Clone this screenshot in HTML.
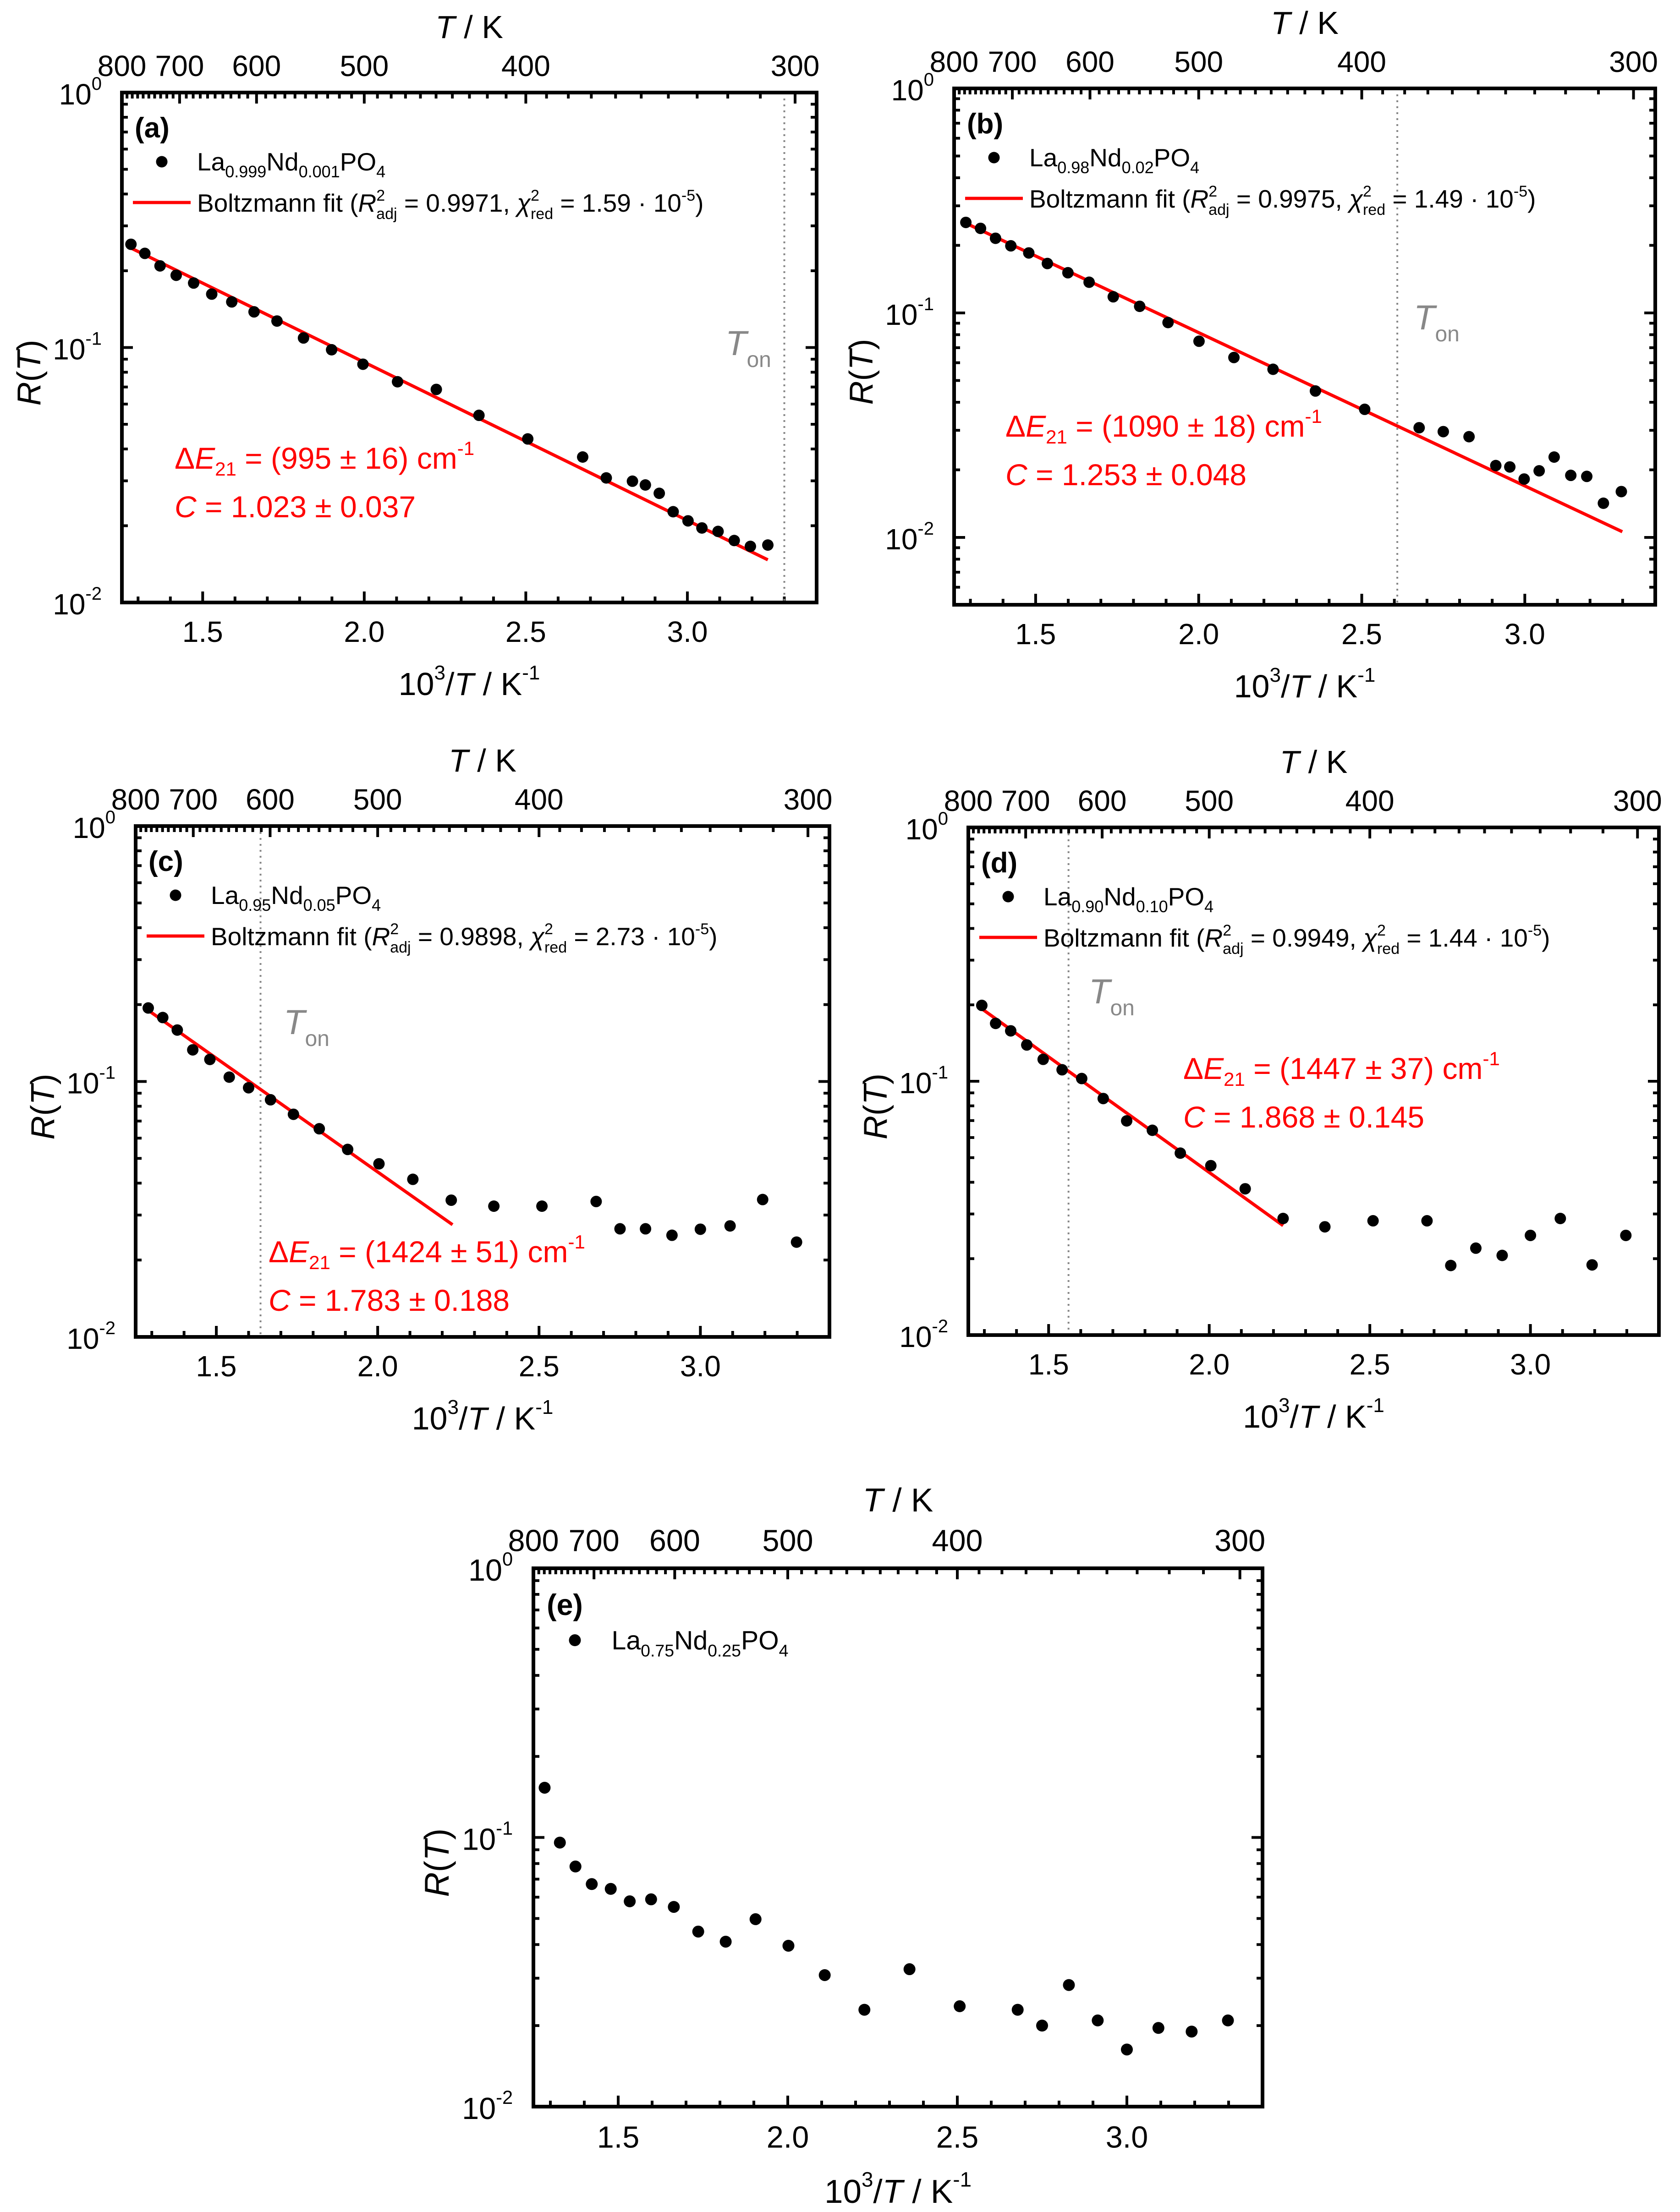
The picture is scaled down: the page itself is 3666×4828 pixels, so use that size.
<!DOCTYPE html>
<html><head><meta charset="utf-8"><style>
html,body{margin:0;padding:0;background:#fff;}
svg{display:block;font-family:"Liberation Sans",Arial,sans-serif;}
</style></head><body>
<svg id="fig" width="3666" height="4828" viewBox="0 0 3666 4828" xmlns="http://www.w3.org/2000/svg"></svg>
<script>
// ---------- data ----------
const xA=[1.278,1.321,1.368,1.418,1.472,1.528,1.590,1.659,1.730,1.812,1.899,1.996,2.103,2.223,2.355,2.506,2.676,2.749,2.830,2.870,2.913,2.956,3.002,3.045,3.095,3.145,3.195,3.249];
const yA=[0.254,0.234,0.209,0.192,0.179,0.162,0.151,0.138,0.127,0.109,0.098,0.086,0.0734,0.0685,0.0542,0.0438,0.0372,0.0308,0.0299,0.0289,0.0268,0.0227,0.0209,0.0196,0.0190,0.0175,0.0166,0.0168];
const fitXA=[1.278,3.249];
const fitYA=[0.2456,0.0147];
const tonA=3.30;

const xB=[1.286,1.331,1.377,1.424,1.479,1.536,1.599,1.664,1.738,1.819,1.906,2.001,2.108,2.228,2.358,2.509,2.676,2.750,2.829,2.911,2.954,2.998,3.044,3.090,3.141,3.190,3.241,3.296];
const yB=[0.253,0.238,0.215,0.199,0.185,0.166,0.151,0.137,0.118,0.107,0.0906,0.0748,0.0633,0.0561,0.0449,0.0372,0.0308,0.0296,0.0281,0.0209,0.0206,0.0182,0.0198,0.0228,0.0189,0.0187,0.0142,0.0160];
const fitXB=[1.286,3.299];
const fitYB=[0.251,0.0106];
const tonB=2.609;

const xC=[1.289,1.334,1.379,1.427,1.480,1.540,1.600,1.668,1.739,1.819,1.907,2.004,2.109,2.228,2.360,2.509,2.677,2.751,2.830,2.912,3.000,3.092,3.193,3.298];
const yC=[0.194,0.178,0.159,0.133,0.122,0.104,0.0945,0.0848,0.0744,0.0653,0.0542,0.0476,0.0414,0.0343,0.0325,0.0325,0.0339,0.0265,0.0265,0.0250,0.0264,0.0272,0.0345,0.0235];
const fitXC=[1.289,2.232];
const fitYC=[0.190,0.0275];
const tonC=1.637;

const xD=[1.292,1.335,1.382,1.432,1.483,1.542,1.603,1.670,1.743,1.823,1.910,2.005,2.112,2.230,2.360,2.510,2.678,2.752,2.830,2.912,3.000,3.093,3.192,3.297];
const yD=[0.199,0.169,0.158,0.139,0.122,0.111,0.1025,0.0855,0.0698,0.0641,0.0521,0.0465,0.0377,0.0288,0.0267,0.0282,0.0282,0.0188,0.0220,0.0206,0.0247,0.0288,0.0189,0.0247];
const fitXD=[1.292,2.230];
const fitYD=[0.193,0.0270];
const tonD=1.562;

const xE=[1.283,1.328,1.374,1.422,1.478,1.534,1.597,1.664,1.736,1.817,1.905,2.002,2.109,2.226,2.359,2.507,2.678,2.750,2.829,2.914,3.000,3.093,3.191,3.298];
const yE=[0.153,0.0957,0.0780,0.0671,0.0644,0.0579,0.0589,0.0552,0.0447,0.0410,0.0497,0.0396,0.0308,0.0229,0.0324,0.0236,0.0229,0.0200,0.0283,0.0209,0.0163,0.0196,0.0190,0.0209];

const bottomTicks=["1.5","2.0","2.5","3.0"];
const topTickLabels=["800","700","600","500","400","300"];
const yTickExp=["0","-1","-2"];

// ---------- helpers ----------
const NS="http://www.w3.org/2000/svg";
const svg=document.getElementById('fig');
function mk(tag,attrs,parent){const e=document.createElementNS(NS,tag);for(const k in attrs)e.setAttribute(k,attrs[k]);(parent||svg).appendChild(e);return e;}

function drawPanel(p){
  const g=mk('g',{});
  
  
  const X0=1.25,X1=3.4;
  const sx=v=>p.l+(v-X0)/(X1-X0)*(p.r-p.l);
  const sy=v=>p.t+(p.ymax-Math.log10(v))/(p.ymax-p.ymin)*(p.b-p.t);
  const syl=l=>p.t+(p.ymax-l)/(p.ymax-p.ymin)*(p.b-p.t);
  const fs=p.s;
  const tk=mk('g',{stroke:'#000','stroke-width':6},g);
  
  
  for(let i=13;i<=34;i++){const v=i/10;const x=sx(v);const maj=(i%5===0);const L=maj?24:13;
    mk('line',{x1:x,y1:p.b,x2:x,y2:p.b-L},tk);}
  for(let T=800;T>=300;T-=10){const v=1000/T;if(v<X0-1e-6||v>X1)continue;const x=sx(v);const maj=(T%100===0);const L=maj?24:13;
    mk('line',{x1:x,y1:p.t,x2:x,y2:p.t+L},tk);}
  for(let d=0;d>=-3;d--){for(let m=1;m<=9;m++){
      const lv=(m===1)?d:(d-1+Math.log10(m));
      if(lv>p.ymax+1e-6||lv<p.ymin-0.005)continue;const y=syl(lv);const L=(m===1)?24:13;
      mk('line',{x1:p.l,y1:y,x2:p.l+L,y2:y},tk);mk('line',{x1:p.r,y1:y,x2:p.r-L,y2:y},tk);}}
  if(p.ton!==undefined){const x=sx(p.ton);
    const tl=mk('line',{x1:x,y1:p.t,x2:x,y2:p.b,stroke:'#888','stroke-width':4,'stroke-dasharray':'4 9'},g);
    
    
    const tt=mk('text',{x:p.tonTx,y:p.tonTy,'font-size':76*fs,fill:'#888','font-style':'italic'},g);
    
    
    tt.innerHTML='T<tspan font-style="normal" font-size="'+(48*fs)+'" dy="'+(26*fs)+'">on</tspan>';}
  if(p.fx){const fl=mk('line',{x1:sx(p.fx[0]),y1:sy(p.fy[0]),x2:sx(p.fx[1]),y2:sy(p.fy[1]),stroke:'#f00','stroke-width':7},g);
    
    }
  const pg=mk('g',{fill:'#000'},g);
  
  
  for(let i=0;i<p.xs.length;i++){const c=mk('circle',{cx:sx(p.xs[i]),cy:sy(p.ys[i]),r:12.5*fs},pg);
    
    }
  const fr=mk('rect',{x:p.l,y:p.t,width:p.r-p.l,height:p.b-p.t,fill:'none',stroke:'#000','stroke-width':8},g);
  
  
  for(const s of bottomTicks){const t=mk('text',{x:sx(parseFloat(s)),y:p.b+86*fs,'font-size':64*fs,'text-anchor':'middle'},g);t.textContent=s;
    
    }
  for(const s of topTickLabels){const t=mk('text',{x:sx(1000/parseFloat(s)),y:p.t-36*fs,'font-size':64*fs,'text-anchor':'middle'},g);t.textContent=s;
    
    }
  for(const e of yTickExp){const lv=parseFloat(e);const t=mk('text',{x:p.l-22-22*fs,y:syl(lv)+26*fs,'font-size':64*fs,'text-anchor':'end'},g);
    t.innerHTML='10<tspan font-size="'+(40*fs)+'" dy="'+(-32*fs)+'">'+e+'</tspan>';
    
    }
  const cx=(p.l+p.r)/2;
  const tt=mk('text',{x:cx,y:p.t-119*fs,'font-size':70*fs,'text-anchor':'middle'},g);
  tt.innerHTML='<tspan font-style="italic">T</tspan> / K';
  
  
  const xt=mk('text',{x:cx,y:p.b+202*fs,'font-size':70*fs,'text-anchor':'middle'},g);
  xt.innerHTML='10<tspan font-size="'+(44*fs)+'" dy="'+(-34*fs)+'">3</tspan><tspan dy="'+(34*fs)+'">/</tspan><tspan font-style="italic">T</tspan> / K<tspan font-size="'+(44*fs)+'" dy="'+(-34*fs)+'">-1</tspan>';
  
  
  const ycy=(p.t+p.b)/2+55;const ycx=p.l-178*fs;
  const yt=mk('text',{x:ycx,y:ycy,'font-size':72*fs,'text-anchor':'middle',transform:'rotate(-90 '+ycx+' '+ycy+')'},g);
  yt.innerHTML='<tspan font-style="italic">R</tspan>(<tspan font-style="italic">T</tspan>)';
  
  
  const pl=mk('text',{x:p.l+28*fs,y:p.t+98*fs,'font-size':62*fs,'font-weight':'bold'},g);
  pl.textContent='('+p.id+')';
  
  
  const lg=mk('g',{},g);
  
  
  const sub=(s)=>'<tspan font-size="'+(36*fs)+'" dy="'+(15*fs)+'">'+s+'</tspan><tspan dy="'+(-15*fs)+'">';
  mk('circle',{cx:p.l+87*fs,cy:p.t+151*fs,r:12.5*fs,fill:'#000'},lg);
  const l1=mk('text',{x:p.l+164*fs,y:p.t+170*fs,'font-size':55*fs},lg);
  l1.innerHTML='La'+sub(p.a)+'Nd</tspan>'+sub(p.bb)+'PO</tspan>'+sub('4')+'</tspan>';
  
  
  if(p.r2){
    mk('line',{x1:p.l+24,y1:p.t+240,x2:p.l+150,y2:p.t+240,stroke:'#f00','stroke-width':7},lg);
    const l2=mk('text',{x:p.l+164,y:p.t+260,'font-size':55},lg);
    l2.innerHTML='Boltzmann fit (<tspan font-style="italic">R</tspan><tspan font-size="34" dy="-24">2</tspan><tspan font-size="34" dx="-19" dy="40">adj</tspan><tspan dy="-16"> = '+p.r2+', </tspan><tspan font-style="italic">χ</tspan><tspan font-size="34" dy="-24">2</tspan><tspan font-size="34" dx="-19" dy="40">red</tspan><tspan dy="-16"> = '+p.chi+' · 10</tspan><tspan font-size="34" dy="-24">-5</tspan><tspan dy="24">)</tspan>';
    
    
  }
  if(p.dE){
    const a1=mk('text',{x:p.l+p.ax-10,y:p.t+p.ay,'font-size':66,fill:'#f00'},g);
    a1.innerHTML='Δ<tspan font-style="italic">E</tspan><tspan font-size="42" dy="15">21</tspan><tspan dy="-15"> = ('+p.dE+') cm</tspan><tspan font-size="42" dy="-30">-1</tspan>';
    
    
    const a2=mk('text',{x:p.l+p.ax-10,y:p.t+p.ay+106,'font-size':66,fill:'#f00'},g);
    a2.innerHTML='<tspan font-style="italic">C</tspan> = '+p.C;
    
    
  }
}

drawPanel({id:'a',l:266,r:1782,t:202,b:1315,ymin:-2,ymax:0,s:1,xs:xA,ys:yA,fx:fitXA,fy:fitYA,ton:tonA,tonTx:1583,tonTy:775,
  a:'0.999',bb:'0.001',r2:'0.9971',chi:'1.59',dE:'995 ± 16',C:'1.023 ± 0.037',ax:125,ay:821});
drawPanel({id:'b',l:2082,r:3612,t:193,b:1320,ymin:-2.30,ymax:0,s:1,xs:xB,ys:yB,fx:fitXB,fy:fitYB,ton:tonB,tonTx:3085,tonTy:719,
  a:'0.98',bb:'0.02',r2:'0.9975',chi:'1.49',dE:'1090 ± 18',C:'1.253 ± 0.048',ax:122,ay:760});
drawPanel({id:'c',l:296,r:1810,t:1803,b:2918,ymin:-2,ymax:0,s:1,xs:xC,ys:yC,fx:fitXC,fy:fitYC,ton:tonC,tonTx:619,tonTy:2257,
  a:'0.95',bb:'0.05',r2:'0.9898',chi:'2.73',dE:'1424 ± 51',C:'1.783 ± 0.188',ax:300,ay:952});
drawPanel({id:'d',l:2113,r:3620,t:1806,b:2914,ymin:-2,ymax:0,s:1,xs:xD,ys:yD,fx:fitXD,fy:fitYD,ton:tonD,tonTx:2376,tonTy:2190,
  a:'0.90',bb:'0.10',r2:'0.9949',chi:'1.44',dE:'1447 ± 37',C:'1.868 ± 0.145',ax:479,ay:549});
drawPanel({id:'e',l:1164,r:2755,t:3423,b:4598,ymin:-2,ymax:0,s:1.04,xs:xE,ys:yE,a:'0.75',bb:'0.25'});
</script>
</body></html>
